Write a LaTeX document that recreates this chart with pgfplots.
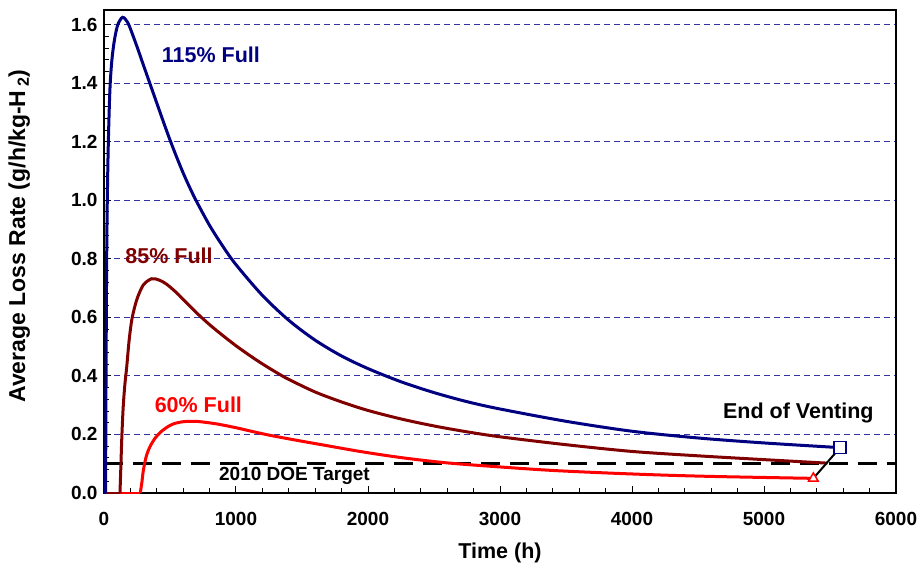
\documentclass[border=0pt]{standalone}
\usepackage{fontspec}
\setmainfont{Liberation Sans}
\usepackage{pgfplots}
\pgfplotsset{compat=1.18}

\definecolor{c115}{RGB}{0,0,128}
\definecolor{c85}{RGB}{128,0,0}
\definecolor{c60}{RGB}{255,0,0}
\definecolor{gridc}{RGB}{50,50,160}

\newcommand{\lblfont}{\fontsize{21.5}{25}\selectfont\bfseries}

\begin{document}
\begin{tikzpicture}
\path[use as bounding box] (-104pt,-80pt) rectangle (819pt,493pt);
\begin{axis}[
  at={(0pt,0pt)}, anchor=south west,
  scale only axis, width=792pt, height=483pt,
  xmin=0, xmax=6000, ymin=0, ymax=1.65,
  xtick={0,1000,2000,3000,4000,5000,6000}, minor x tick num=4,
  ytick={0,0.2,0.4,0.6,0.8,1.0,1.2,1.4,1.6}, minor y tick num=4,
  xtick pos=left, ytick pos=left, tick align=inside,
  major tick length=7pt, minor tick length=5pt,
  every tick/.style={black, line width=1pt},
  axis line style={black, line width=2.5pt},
  scaled x ticks=false,
  /pgf/number format/assume math mode=true,
  xticklabel style={/pgf/number format/set thousands separator={}, yshift=-16pt},
  yticklabel style={/pgf/number format/fixed, /pgf/number format/precision=1,
                    /pgf/number format/fixed zerofill, xshift=-3pt},
  tick label style={font=\fontsize{19}{22}\selectfont\bfseries},
  ymajorgrids,
  major grid style={gridc, line width=0.9pt, dash pattern=on 6pt off 4pt},
  xlabel={Time (h)},
  ylabel={Average Loss Rate (g/h/kg-H\,$_{\mathbf{2}}$)},
  xlabel style={font=\lblfont, at={(axis description cs:0.5,-0.124)}, anchor=center},
  ylabel style={font=\fontsize{23}{27}\selectfont\bfseries,
                at={(axis description cs:-0.107,0.532)}, anchor=center},
  clip mode=individual,
]

% 2010 DOE target level
\addplot[black, line width=3.5pt, dash pattern=on 19pt off 10pt] coordinates {(0,0.1) (6000,0.1)};

% 60% full
\addplot[c60, line width=3pt] coordinates {(0,0) (275,0)};
\addplot[c60, line width=3pt, smooth, tension=0.5] coordinates {
  (275,0) (288,0.04) (298,0.077) (320,0.125) (348,0.158) (385,0.186) (424,0.206)
  (475,0.224) (525,0.236) (590,0.243) (652,0.245) (720,0.244) (854,0.236)
  (1000,0.223) (1106,0.212) (1258,0.197) (1485,0.178) (1636,0.166) (1939,0.142)
  (2250,0.121) (2596,0.103) (3000,0.089) (3400,0.077) (3833,0.068) (4250,0.061)
  (4667,0.056) (5374,0.05)};

% 85% full
\addplot[c85, line width=3pt] coordinates {(0,0) (121,0)};
\addplot[c85, line width=3pt, smooth, tension=0.5] coordinates {
  (121,0) (127,0.08) (135,0.19) (145,0.29) (158,0.37) (172,0.43) (190,0.52)
  (210,0.59) (235,0.64) (260,0.675) (300,0.712) (361,0.732) (420,0.727)
  (475,0.713) (550,0.684) (620,0.652) (700,0.616) (800,0.575) (900,0.538)
  (1000,0.503) (1100,0.471) (1200,0.441) (1320,0.408) (1400,0.388) (1600,0.345)
  (1800,0.311) (2000,0.282) (2250,0.253) (2500,0.229) (2750,0.209) (3000,0.192)
  (3500,0.165) (4000,0.142) (4500,0.127) (5000,0.114) (5480,0.102)};

% 115% full
\addplot[c115, line width=3pt] coordinates {(0,0) (12,0)};
\addplot[c115, line width=3pt, smooth, tension=0.5] coordinates {
  (12,0) (16,0.45) (20,0.78) (25,1.0) (33,1.2) (45,1.38) (60,1.48) (80,1.55)
  (105,1.60) (141,1.625) (180,1.607) (220,1.562) (260,1.512) (300,1.46)
  (350,1.396) (400,1.332) (450,1.268) (500,1.206) (550,1.148) (600,1.093)
  (650,1.043) (700,0.997) (800,0.914) (900,0.843) (1000,0.78) (1200,0.675)
  (1400,0.59) (1600,0.522) (1800,0.468) (2000,0.425) (2250,0.38) (2500,0.343)
  (2750,0.312) (3000,0.287) (3500,0.245) (4000,0.211) (4500,0.188) (5000,0.171)
  (5576,0.155)};

% end of venting
\addplot[black, line width=2pt] coordinates {(5576,0.155) (5374,0.05)};
\addplot[only marks, mark=square*, mark size=6pt, c115, line width=1.5pt,
  mark options={fill=white}] coordinates {(5576,0.155)};
\addplot[only marks, mark=triangle*, mark size=5.5pt, c60, line width=1.5pt,
  mark options={fill=white}] coordinates {(5374,0.05)};

\node[anchor=base, text=c115, font=\lblfont] at (axis cs:810,1.471) {115\% Full};
\node[anchor=base, text=c85, font=\lblfont] at (axis cs:493,0.785) {85\% Full};
\node[anchor=base, text=c60, font=\lblfont] at (axis cs:715,0.276) {60\% Full};
\node[anchor=base, text=black, font=\lblfont] at (axis cs:5260,0.253) {End of Venting};
\node[anchor=base, text=black, font=\fontsize{19}{22}\selectfont\bfseries] at (axis cs:1443,0.0427) {2010 DOE Target};
\end{axis}
\end{tikzpicture}
\end{document}
